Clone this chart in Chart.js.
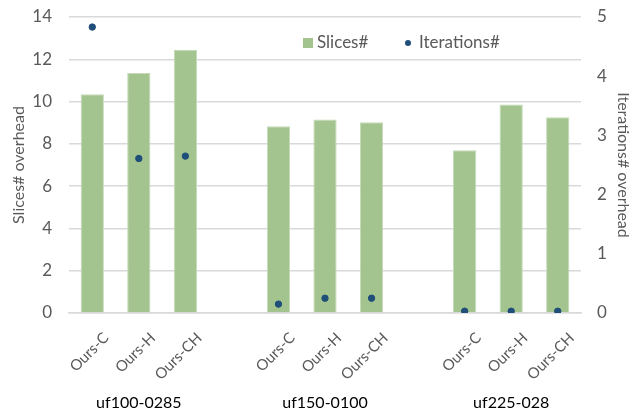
<!DOCTYPE html>
<html>
<head>
<meta charset="utf-8">
<script src="https://cdn.jsdelivr.net/npm/chart.js@4/dist/chart.umd.min.js"></script>
<style>
  html, body { margin: 0; padding: 0; background: #fff; }
  #wrap { width: 633px; height: 415px; position: relative; }
</style>
</head>
<body>
<div id="wrap"><canvas id="chart"></canvas></div>
<script>
// Empty slots (index 3 and 7) separate the three benchmark groups
const methods = ['Ours-C', 'Ours-H', 'Ours-CH', '', 'Ours-C', 'Ours-H', 'Ours-CH', '', 'Ours-C', 'Ours-H', 'Ours-CH'];
const groups = ['', 'uf100-0285', '', '', '', 'uf150-0100', '', '', '', 'uf225-028', ''];
const slices = [10.35, 11.35, 12.45, null, 8.83, 9.15, 9.02, null, 7.7, 9.86, 9.26];
const iterations = [4.83, 2.61, 2.65, null, 0.15, 0.25, 0.25, null, 0.03, 0.03, 0.03];
const leftTicks = [0, 2, 4, 6, 8, 10, 12, 14];
const rightTicks = [0, 1, 2, 3, 4, 5];

const FONT = 'Lato, "Open Sans", sans-serif';
const GREEN = '#a3c48f';
const BLUE = '#1f4e79';
const GREY = '#595959';

// Legend drawn inside the plot area, near the top
const innerLegend = {
  id: 'innerLegend',
  afterDraw(chart) {
    const ctx = chart.ctx;
    const bars = chart.data.datasets.find(d => d.type === 'bar');
    const dots = chart.data.datasets.find(d => d.type === 'scatter');
    const y = chart.chartArea.top + 26;
    ctx.save();
    ctx.font = '17px ' + FONT;
    ctx.textBaseline = 'middle';
    ctx.fillStyle = GREEN;
    ctx.fillRect(303, y - 5, 10, 10);
    ctx.fillStyle = GREY;
    ctx.fillText(bars.label, 317, y);
    ctx.fillStyle = BLUE;
    ctx.beginPath();
    ctx.arc(408, y, 3, 0, Math.PI * 2);
    ctx.fill();
    ctx.fillStyle = GREY;
    ctx.fillText(dots.label, 419, y);
    ctx.restore();
  }
};

// Vertical axes: fixed width, and only room for half a tick label above the plot
function fixVertical(width) {
  return s => {
    s.width = width;
    s.paddingTop = 17;
    s.paddingBottom = 0;
  };
}

new Chart(document.getElementById('chart'), {
  data: {
    labels: methods,
    datasets: [
      {
        type: 'scatter',
        label: 'Iterations#',
        data: iterations,
        yAxisID: 'y2',
        xAxisID: 'x',
        backgroundColor: BLUE,
        borderColor: BLUE,
        pointRadius: 3.2,
        showLine: false,
        order: 0
      },
      {
        type: 'bar',
        label: 'Slices#',
        data: slices,
        yAxisID: 'y',
        xAxisID: 'x',
        backgroundColor: GREEN,
        borderColor: '#c5dbb8',
        borderWidth: 1,
        categoryPercentage: 1,
        barPercentage: 0.5,
        order: 1
      }
    ]
  },
  options: {
    responsive: true,
    maintainAspectRatio: false,
    animation: false,
    layout: { padding: 0 },
    plugins: {
      legend: { display: false },
      tooltip: { enabled: false }
    },
    scales: {
      x: {
        type: 'category',
        position: 'bottom',
        offset: true,
        grid: { display: false, drawTicks: false },
        border: { color: '#d9d9d9', width: 1.5 },
        ticks: {
          color: GREY,
          font: { family: FONT, size: 15 },
          autoSkip: false,
          minRotation: 45,
          maxRotation: 45,
          labelOffset: 14,
          padding: 16
        },
        afterFit(s) { s.height = 68; }
      },
      xg: {
        type: 'category',
        position: 'bottom',
        offset: true,
        labels: groups,
        grid: { display: false, drawTicks: false },
        border: { display: false },
        ticks: {
          color: '#000',
          font: { family: FONT, size: 16 },
          autoSkip: false,
          minRotation: 0,
          maxRotation: 0,
          padding: 12
        },
        afterFit(s) { s.height = 34; }
      },
      y: {
        position: 'left',
        min: 0,
        max: 14,
        afterBuildTicks(s) { s.ticks = leftTicks.map(v => ({ value: v })); },
        grid: { color: '#d9d9d9', lineWidth: 1.5, drawTicks: false },
        border: { display: false },
        ticks: { color: GREY, font: { family: FONT, size: 17 }, padding: 17 },
        title: {
          display: true,
          text: 'Slices# overhead',
          color: GREY,
          font: { family: FONT, size: 16 },
          padding: { top: 9, bottom: 0 }
        },
        afterFit: fixVertical(69)
      },
      y2: {
        position: 'right',
        min: 0,
        max: 5,
        afterBuildTicks(s) { s.ticks = rightTicks.map(v => ({ value: v })); },
        grid: { display: false, drawTicks: false },
        border: { display: false },
        ticks: { color: GREY, font: { family: FONT, size: 17 }, padding: 16 },
        title: {
          display: true,
          text: 'Iterations# overhead',
          color: GREY,
          font: { family: FONT, size: 16 },
          padding: { top: 0, bottom: 0 }
        },
        afterFit: fixVertical(52)
      }
    }
  },
  plugins: [innerLegend]
});
</script>
</body>
</html>
